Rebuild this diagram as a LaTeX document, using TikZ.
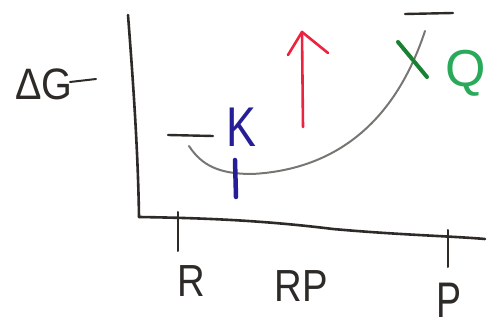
\documentclass[tikz,border=0pt]{standalone}
\usepackage{fontspec}
\setmainfont{Liberation Sans}
\definecolor{pencil}{RGB}{45,42,40}
\definecolor{curvegray}{RGB}{120,118,115}
\definecolor{penred}{RGB}{235,35,65}
\definecolor{penblue}{RGB}{38,30,150}
\definecolor{pengreen}{RGB}{25,130,50}
\definecolor{penlgreen}{RGB}{40,170,90}
\tikzset{
  axisline/.style={draw=pencil, line width=2.6pt, line cap=round},
  barline/.style={draw=pencil, line width=2.4pt, line cap=round},
  handtext/.style={anchor=base, inner sep=0pt, text=pencil},
}
\begin{document}
\begin{tikzpicture}[x=1pt,y=-1pt]
\useasboundingbox (0,0) rectangle (504,331);
% axes
\coordinate (ytop) at (128,15);
\coordinate (origin) at (139,217);
\coordinate (xend) at (485,239);
\draw[axisline] (ytop) .. controls (133,80) and (138,150) .. (origin);
\draw[axisline] (origin) .. controls (200,218) and (260,220) .. (333,229) .. controls (400,235) and (450,236) .. (xend);
% ticks
\coordinate (tR1) at (178,212); \coordinate (tR2) at (178,251);
\coordinate (tP1) at (448,230); \coordinate (tP2) at (448,267);
\draw[axisline, line width=2pt] (tR1) -- (tR2);
\draw[axisline, line width=2pt] (tP1) -- (tP2);
% labels
\node[handtext] (dg) at (44,100) {\fontsize{44}{44}\selectfont\scalebox{0.9}[1]{ΔG}};
\coordinate (dg1) at (70,82); \coordinate (dg2) at (96,79);
\draw[barline, line width=2pt] (dg1) -- (dg2);
\node[handtext] (lR) at (191,297) {\fontsize{45}{45}\selectfont\scalebox{0.85}[1]{R}};
\node[handtext] (lRP) at (301,302) {\fontsize{45}{45}\selectfont\scalebox{0.85}[1]{RP}};
\node[handtext] (lP) at (449,318) {\fontsize{50}{50}\selectfont\scalebox{0.75}[1]{P}};
% energy levels
\coordinate (b1a) at (168,135); \coordinate (b1b) at (213,136);
\draw[barline] (b1a) -- (b1b);
\coordinate (b2a) at (405,14); \coordinate (b2b) at (453,13);
\draw[barline] (b2a) -- (b2b);
% reaction curve
\coordinate (c1) at (189,146);
\coordinate (cmin) at (252,174);
\coordinate (c2) at (425,31);
\draw[curvegray, line width=2pt, line cap=round] (c1) .. controls (202,166) and (220,174) .. (cmin) .. controls (330,170) and (393,128) .. (c2);
% red arrow
\coordinate (rbase) at (303,127);
\coordinate (rtip) at (302,32);
\coordinate (rl) at (288,55);
\coordinate (rr) at (328,53);
\draw[penred, line width=2.6pt, line cap=round, line join=round] (rbase) -- (rtip);
\draw[penred, line width=2.6pt, line cap=round, line join=round] (rl) -- (rtip) -- (rr);
% K
\node[anchor=base, inner sep=0pt, text=penblue] (K) at (241,147) {\fontsize{56}{56}\selectfont\scalebox{0.8}[1]{K}};
\coordinate (kb1) at (235,160); \coordinate (kb2) at (236,197);
\draw[penblue, line width=4.5pt, line cap=round] (kb1) -- (kb2);
% X and Q
\coordinate (x1) at (398,42); \coordinate (x2) at (427,77);
\draw[pengreen, line width=4pt, line cap=round] (x1) -- (x2);
\node[anchor=base, inner sep=0pt, text=penlgreen] (Q) at (466,87) {\fontsize{52}{52}\selectfont Q};
\end{tikzpicture}
\end{document}
